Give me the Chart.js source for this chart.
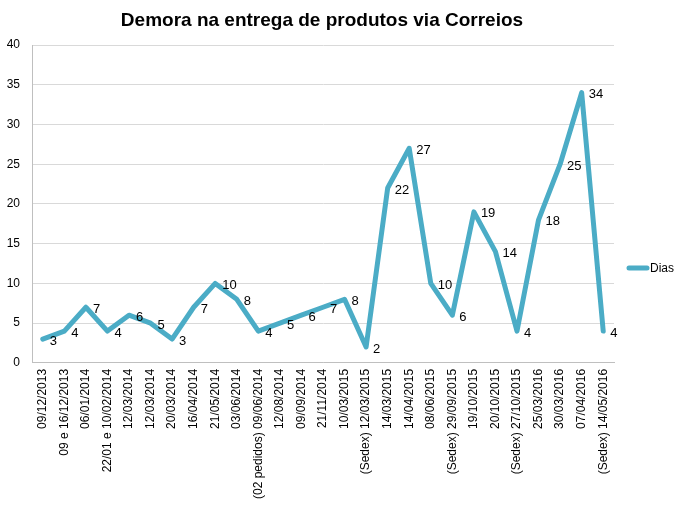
<!DOCTYPE html>
<html>
<head>
<meta charset="utf-8">
<script src="https://cdn.jsdelivr.net/npm/chart.js@4/dist/chart.umd.min.js"></script>
<style>
html,body{margin:0;padding:0;background:#fff;}
#wrap{width:680px;height:510px;position:relative;}
</style>
</head>
<body>
<div id="wrap"><canvas id="c" width="680" height="510"></canvas></div>
<script>
const categories = ["09/12/2013","09 e 16/12/2013","06/01/2014","22/01 e 10/02/2014","12/03/2014","12/03/2014","20/03/2014","16/04/2014","21/05/2014","03/06/2014","(02 pedidos) 09/06/2014","12/08/2014","09/09/2014","21/11/2014","10/03/2015","(Sedex) 12/03/2015","14/03/2015","14/04/2015","08/06/2015","(Sedex) 29/09/2015","19/10/2015","20/10/2015","(Sedex) 27/10/2015","25/03/2016","30/03/2016","07/04/2016","(Sedex) 14/05/2016"];
const dias = [3,4,7,4,6,5,3,7,10,8,4,5,6,7,8,2,22,27,10,6,19,14,4,18,25,34,4];
const seriesName = "Dias";
const chartTitle = "Demora na entrega de produtos via Correios";
const yTicks = [0,5,10,15,20,25,30,35,40];

const FONT = "'Liberation Sans', Arial, sans-serif";
const lineColor = "#4BACC6";

const labelPlugin = {
  id: 'pointLabels',
  afterDatasetsDraw(chart) {
    const ctx = chart.ctx;
    const meta = chart.getDatasetMeta(0);
    ctx.save();
    ctx.font = "13px " + FONT;
    ctx.fillStyle = "#000";
    ctx.textAlign = "left";
    ctx.textBaseline = "middle";
    meta.data.forEach((pt, i) => {
      ctx.fillText(String(chart.data.datasets[0].data[i]), pt.x + 7, pt.y + 2);
    });
    ctx.restore();
  }
};

const titleLegendPlugin = {
  id: 'titleLegend',
  afterDraw(chart) {
    const ctx = chart.ctx;
    ctx.save();
    // title
    ctx.font = "bold 19px " + FONT;
    ctx.fillStyle = "#000";
    ctx.textAlign = "center";
    ctx.textBaseline = "middle";
    ctx.fillText(chartTitle, 322, 21);
    // legend
    ctx.strokeStyle = lineColor;
    ctx.lineWidth = 5;
    ctx.lineCap = "round";
    ctx.beginPath();
    ctx.moveTo(629, 268);
    ctx.lineTo(647, 268);
    ctx.stroke();
    ctx.font = "12px " + FONT;
    ctx.textAlign = "left";
    ctx.fillText(seriesName, 650, 269);
    ctx.restore();
  }
};

new Chart(document.getElementById('c'), {
  type: 'line',
  data: {
    labels: categories,
    datasets: [{
      label: seriesName,
      data: dias,
      borderColor: lineColor,
      backgroundColor: lineColor,
      borderWidth: 5,
      pointRadius: 0,
      tension: 0,
      borderJoinStyle: 'round',
      borderCapStyle: 'round'
    }]
  },
  options: {
    responsive: false,
    animation: false,
    layout: { padding: { left: 0, right: 66, top: 45, bottom: 5 } },
    plugins: {
      title: { display: false },
      legend: { display: false },
      tooltip: { enabled: false }
    },
    scales: {
      x: {
        offset: true,
        grid: { display: false, drawTicks: false },
        border: { color: "#bfbfbf" },
        ticks: {
          autoSkip: false,
          minRotation: 90,
          maxRotation: 90,
          color: "#000",
          font: { family: FONT, size: 12 },
          padding: 6
        }
      },
      y: {
        min: 0,
        max: 40,
        afterBuildTicks(axis) { axis.ticks = yTicks.map(v => ({ value: v })); },
        afterFit(axis) { axis.width = 32; },
        grid: { color: "#d9d9d9", drawTicks: false },
        border: { display: true, color: "#bfbfbf" },
        ticks: {
          color: "#000",
          font: { family: FONT, size: 12 },
          padding: 12
        }
      }
    }
  },
  plugins: [labelPlugin, titleLegendPlugin]
});
</script>
</body>
</html>
